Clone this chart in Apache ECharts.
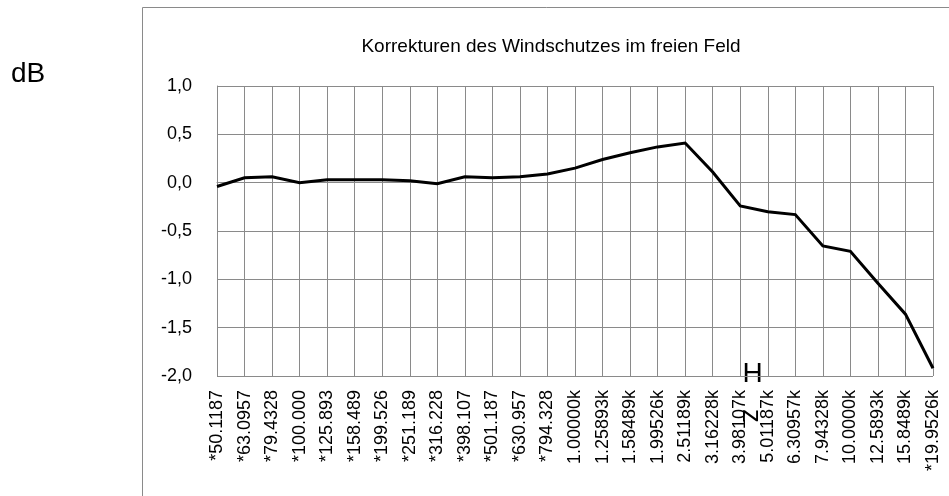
<!DOCTYPE html>
<html>
<head>
<meta charset="utf-8">
<script src="https://cdn.jsdelivr.net/npm/echarts@6/dist/echarts.min.js"></script>
<style>
  html, body { margin: 0; padding: 0; background: #fff; }
  #chart { width: 949px; height: 496px; }
</style>
</head>
<body>
<div id="chart"></div>
<script>
// Terzband-Mittenfrequenzen (Hz)
const frequencies = ['*50.1187','*63.0957','*79.4328','*100.000','*125.893','*158.489','*199.526',
  '*251.189','*316.228','*398.107','*501.187','*630.957','*794.328','1.00000k','1.25893k',
  '1.58489k','1.99526k','2.51189k','3.16228k','3.98107k','5.01187k','6.30957k','7.94328k',
  '10.0000k','12.5893k','15.8489k','*19.9526k'];

// Korrekturwerte in dB
const correction = [-0.04, 0.05, 0.06, 0.00, 0.03, 0.03, 0.03, 0.02, -0.01, 0.06, 0.05, 0.06,
  0.09, 0.15, 0.24, 0.31, 0.37, 0.41, 0.11, -0.24, -0.30, -0.33, -0.655, -0.71, -1.04, -1.36, -1.92];

const titleText = 'Korrekturen des Windschutzes im freien Feld';
const unitY = 'dB';

const FONT = '"Liberation Sans", Arial, sans-serif';
const GRID_COLOR = '#8a8a8a';

const chart = echarts.init(document.getElementById('chart'), null, { renderer: 'canvas' });

chart.setOption({
  animation: false,
  backgroundColor: '#fff',
  title: {
    text: titleText,
    left: 546,
    top: 32,
    textAlign: 'center',
    textStyle: { fontFamily: FONT, fontSize: 19, fontWeight: 'normal', color: '#000' }
  },
  grid: { left: 217, right: 16, top: 86, bottom: 120, containLabel: false },
  xAxis: {
    type: 'category',
    data: frequencies,
    boundaryGap: false,
    axisLine: { show: true, lineStyle: { color: GRID_COLOR, width: 1 } },
    axisTick: { show: false },
    axisLabel: {
      interval: 0, rotate: 90, margin: 14,
      fontFamily: FONT, fontSize: 18, color: '#000'
    },
    splitLine: { show: true, interval: 0, lineStyle: { color: GRID_COLOR, width: 1 } }
  },
  yAxis: {
    type: 'value',
    min: -2, max: 1, interval: 0.5,
    axisLine: { show: true, lineStyle: { color: GRID_COLOR, width: 1 } },
    axisTick: { show: false },
    axisLabel: {
      margin: 25, fontFamily: FONT, fontSize: 18, color: '#000',
      formatter: v => v.toFixed(1).replace('.', ',')
    },
    splitLine: { show: true, lineStyle: { color: GRID_COLOR, width: 1 } }
  },
  series: [{
    type: 'line',
    data: correction,
    symbol: 'none',
    lineStyle: { color: '#000', width: 3, join: 'miter' }
  }],
  graphic: [
    {
      type: 'rect',
      shape: { x: 142.5, y: 7.5, width: 900, height: 600 },
      style: { fill: null, stroke: GRID_COLOR, lineWidth: 1 },
      silent: true
    },
    {
      type: 'text', left: 11, top: 60,
      style: { text: unitY, font: '28px "Liberation Sans", Arial, sans-serif', fill: '#000' }
    },
    {
      type: 'text', x: 752.5, y: 374,
      style: { text: 'H', font: '28px "Liberation Sans", Arial, sans-serif', fill: '#000',
               align: 'center', verticalAlign: 'middle' }
    },
    {
      type: 'text', x: 751, y: 416, rotation: -Math.PI / 2,
      style: { text: 'z', font: '28px "Liberation Sans", Arial, sans-serif', fill: '#000',
               align: 'center', verticalAlign: 'middle' }
    }
  ]
});
</script>
</body>
</html>
